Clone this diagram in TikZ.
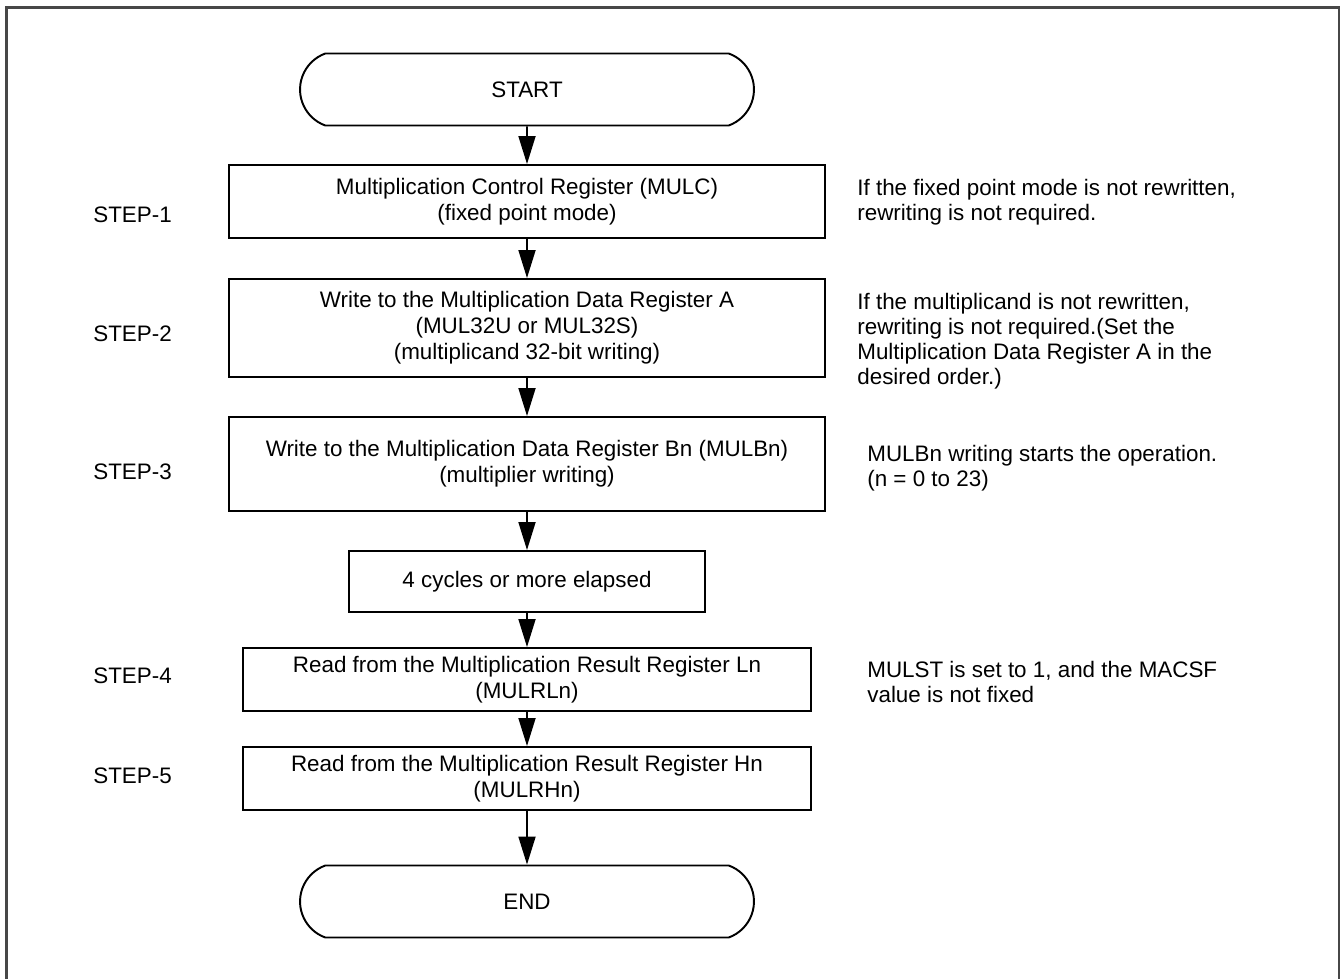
\documentclass[tikz,border=0pt]{standalone}
\usepackage{fontspec}
\setmainfont{Liberation Sans}
\usetikzlibrary{arrows.meta,shapes.misc}
\definecolor{framegray}{HTML}{474747}

\begin{document}
\begin{tikzpicture}[x=0.02cm,y=-0.02cm,
  font=\fontsize{12.75pt}{14.8pt}\selectfont,
  stepbox/.style={draw,line width=1.1pt,inner sep=0pt,align=center,minimum width=11.94cm},
  termbox/.style={draw,line width=1.1pt,rounded rectangle,rounded rectangle arc length=140,
    inner sep=0pt,minimum width=9.08cm,minimum height=1.44cm},
  steplabel/.style={anchor=base west,inner sep=0pt},
  note/.style={anchor=north west,inner sep=0pt,align=left,font=\fontsize{12.75pt}{14.2pt}\selectfont},
  flow/.style={line width=1pt,-{Triangle[length=0.56cm,width=0.34cm]}}]
  \useasboundingbox (0,0) rectangle (1341,979);
  % frame
  \draw[framegray,line width=1.2pt] (6.5,990) |- (1339,7.5) -- (1339,990);
  % flow
  \node[termbox] (start) at (527,89.5) {START};
  \node[stepbox,minimum height=1.46cm] (mulc) at (527,201.5) {Multiplication Control Register (MULC)\\(fixed point mode)};
  \node[stepbox,minimum height=1.96cm] (mula) at (527,328) {Write to the Multiplication Data Register A\\(MUL32U or MUL32S)\\(multiplicand 32-bit writing)};
  \node[stepbox,minimum height=1.88cm] (mulb) at (527,464) {Write to the Multiplication Data Register Bn (MULBn)\\(multiplier writing)};
  \node[stepbox,minimum width=7.12cm,minimum height=1.22cm] (wait) at (527,581.5) {4 cycles or more elapsed};
  \node[stepbox,minimum width=11.38cm,minimum height=1.26cm] (readl) at (527,679.5) {Read from the Multiplication Result Register Ln\\(MULRLn)};
  \node[stepbox,minimum width=11.38cm,minimum height=1.26cm] (readh) at (527,778.5) {Read from the Multiplication Result Register Hn\\(MULRHn)};
  \node[termbox] (end) at (527,901.5) {END};
  \draw[flow] (start) -- (mulc);
  \draw[flow] (mulc) -- (mula);
  \draw[flow] (mula) -- (mulb);
  \draw[flow] (mulb) -- (wait);
  \draw[flow] (wait) -- (readl);
  \draw[flow] (readl) -- (readh);
  \draw[flow] (readh) -- (end);
  % step labels
  \node[steplabel] (s1) at (93,223) {STEP-1};
  \node[steplabel] (s2) at (93,342) {STEP-2};
  \node[steplabel] (s3) at (93,479) {STEP-3};
  \node[steplabel] (s4) at (93,683) {STEP-4};
  \node[steplabel] (s5) at (93,783) {STEP-5};
  % notes
  \node[note] (n1) at (857,179) {If the fixed point mode is not rewritten,\\rewriting is not required.};
  \node[note] (n2) at (857,293) {If the multiplicand is not rewritten,\\rewriting is not required.(Set the\\Multiplication Data Register A in the\\desired order.)};
  \node[note] (n3) at (867,445) {MULBn writing starts the operation.\\(n = 0 to 23)};
  \node[note] (n4) at (867,661) {MULST is set to 1, and the MACSF\\value is not fixed};
\end{tikzpicture}
\end{document}
